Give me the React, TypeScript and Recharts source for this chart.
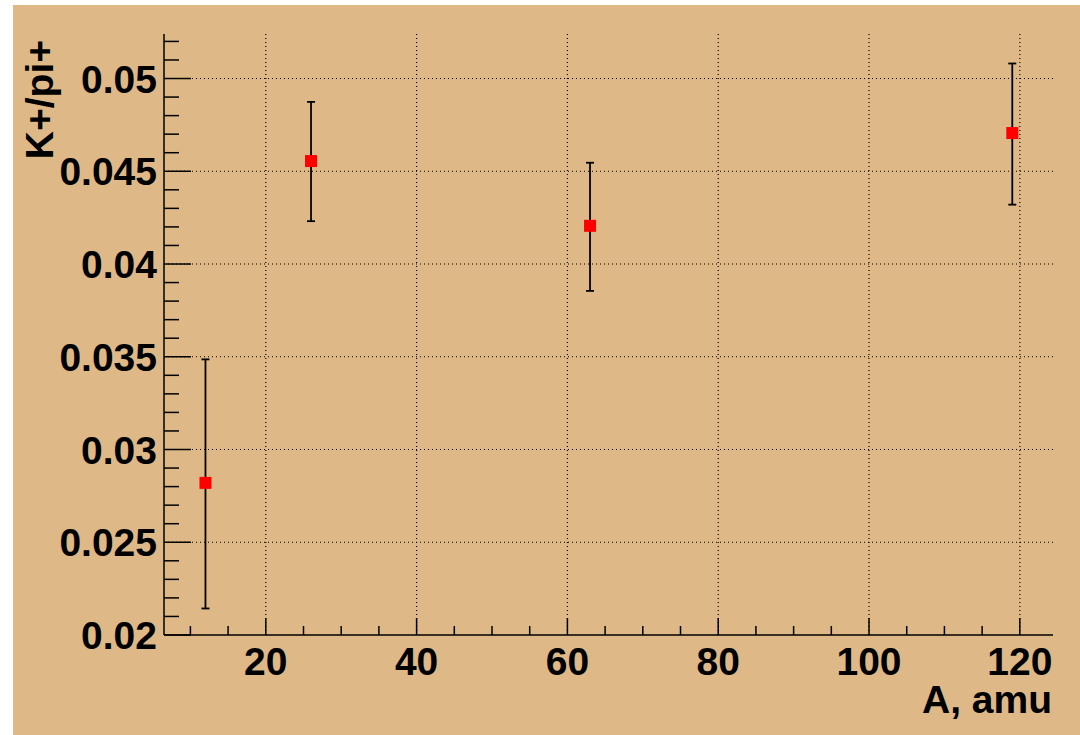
import { ScatterChart, Scatter, XAxis, YAxis, CartesianGrid, ErrorBar } from 'recharts';

// K+/pi+ ratio vs target mass number
const massNumbers = [12, 26, 63, 119];
const kPiRatio = [0.0282, 0.04555, 0.04206, 0.04706];
const errLow = [0.00677, 0.00324, 0.00351, 0.00386];
const errHigh = [0.00666, 0.00319, 0.0034, 0.00375];

const xMajorTicks = [20, 40, 60, 80, 100, 120];
const xAllTicks = [10, 15, 20, 25, 30, 35, 40, 45, 50, 55, 60, 65, 70, 75, 80, 85, 90, 95, 100, 105, 110, 115, 120];
const yMajorTicks = [0.02, 0.025, 0.03, 0.035, 0.04, 0.045, 0.05];
const yMajorLabels = ['0.02', '0.025', '0.03', '0.035', '0.04', '0.045', '0.05'];
const yAllTicks = [
  0.02, 0.021, 0.022, 0.023, 0.024, 0.025, 0.026, 0.027, 0.028, 0.029,
  0.03, 0.031, 0.032, 0.033, 0.034, 0.035, 0.036, 0.037, 0.038, 0.039,
  0.04, 0.041, 0.042, 0.043, 0.044, 0.045, 0.046, 0.047, 0.048, 0.049,
  0.05, 0.051, 0.052,
];

const data = massNumbers.map((a, i) => ({
  x: a,
  y: kPiRatio[i],
  err: [errLow[i], errHigh[i]],
}));

const FONT = '"Liberation Sans", Arial, Helvetica, sans-serif';

const XTick = (props: any) => {
  const { x, y, payload } = props;
  const major = xMajorTicks.some((t) => Math.abs(t - payload.value) < 1e-6);
  return (
    <g>
      <line x1={x} y1={y} x2={x} y2={y - (major ? 17 : 9)} stroke="#000" strokeWidth={1.5} />
      {major && (
        <text x={x} y={y + 40} textAnchor="middle" fontFamily={FONT} fontWeight="bold" fontSize={39} fill="#000">
          {payload.value}
        </text>
      )}
    </g>
  );
};

const YTick = (props: any) => {
  const { x, y, payload } = props;
  const idx = yMajorTicks.findIndex((t) => Math.abs(t - payload.value) < 1e-7);
  const major = idx >= 0;
  return (
    <g>
      <line x1={x} y1={y} x2={x + (major ? 27 : 15)} y2={y} stroke="#000" strokeWidth={1.5} />
      {major && (
        <text x={x - 7} y={y} dy="0.36em" textAnchor="end" fontFamily={FONT} fontWeight="bold" fontSize={39} fill="#000">
          {yMajorLabels[idx]}
        </text>
      )}
    </g>
  );
};

const Marker = (props: any) => {
  const { cx, cy } = props;
  return <rect x={cx - 6} y={cy - 6} width={12} height={12} fill="#ff0000" />;
};

export default function App() {
  return (
    <div style={{ position: 'absolute', left: 0, top: 0, width: 1080, height: 735, background: '#fff' }}>
      <div style={{ position: 'absolute', left: 13, top: 5, width: 1067, height: 730, background: '#deb887' }} />
      <div style={{ position: 'absolute', left: 0, top: 0 }}>
        <ScatterChart width={1080} height={735} margin={{ top: 34, right: 27, bottom: 0, left: 0 }}>
          <CartesianGrid
            stroke="#000"
            strokeDasharray="1 3"
            strokeWidth={1.2}
            horizontalValues={yMajorTicks.slice(1)}
            verticalValues={xMajorTicks}
          />
          <XAxis
            type="number"
            dataKey="x"
            domain={[6.5, 124.4]}
            allowDataOverflow
            ticks={xAllTicks}
            interval={0}
            height={100}
            tickSize={0}
            tickMargin={0}
            tickLine={false}
            tick={<XTick />}
            axisLine={{ stroke: '#000', strokeWidth: 1.5 }}
            label={(p: any) => {
              const vb = p.viewBox;
              return (
                <text x={vb.x + vb.width - 1} y={vb.y + 78} textAnchor="end" fontFamily={FONT} fontWeight="bold" fontSize={39} fill="#000">
                  A, amu
                </text>
              );
            }}
          />
          <XAxis xAxisId="top" type="number" orientation="top" domain={[6.5, 124.4]} height={0} tick={false} tickLine={false} axisLine={{ stroke: '#000', strokeWidth: 1.5 }} />
          <YAxis
            type="number"
            dataKey="y"
            domain={[0.02, 0.0524]}
            allowDataOverflow
            ticks={yAllTicks}
            interval={0}
            width={164}
            tickSize={0}
            tickMargin={0}
            tickLine={false}
            tick={<YTick />}
            axisLine={{ stroke: '#000', strokeWidth: 1.5 }}
            label={() => (
              <text x={53} y={40} transform="rotate(-90, 53, 40)" textAnchor="end" fontFamily={FONT} fontWeight="bold" fontSize={39} fill="#000">
                K+/pi+
              </text>
            )}
          />
          <YAxis yAxisId="right" type="number" orientation="right" domain={[0.02, 0.0524]} width={0} tick={false} tickLine={false} axisLine={{ stroke: '#000', strokeWidth: 1.5 }} />
          <Scatter data={data} shape={<Marker />} isAnimationActive={false}>
            <ErrorBar dataKey="err" direction="y" width={4} stroke="#000" strokeWidth={1.8} isAnimationActive={false} />
          </Scatter>
        </ScatterChart>
      </div>
    </div>
  );
}
